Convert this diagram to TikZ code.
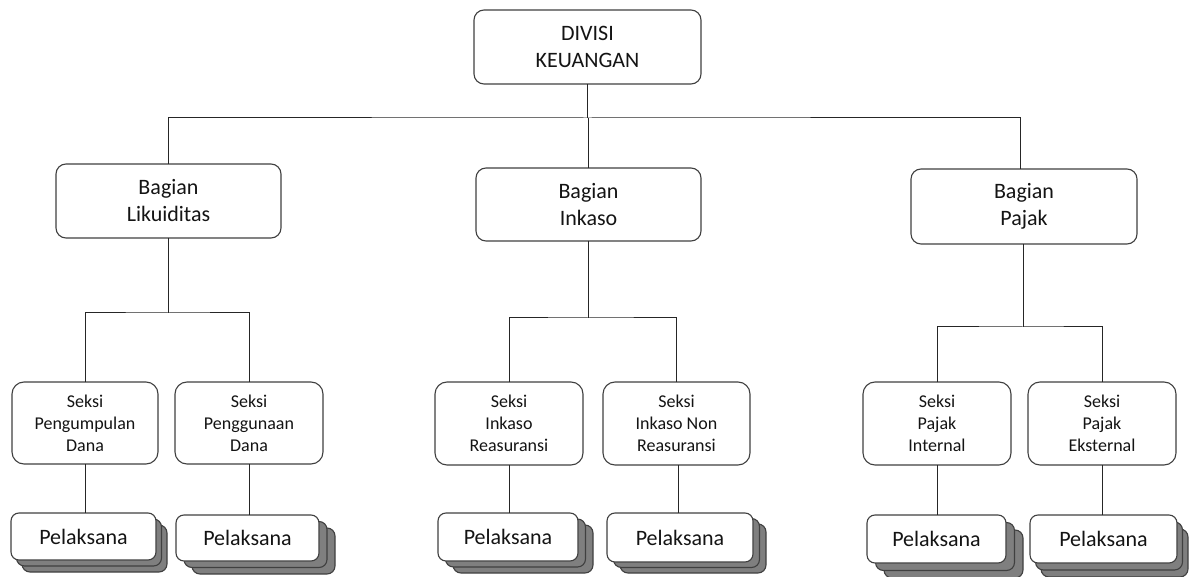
\documentclass[tikz,border=0pt]{standalone}
\usepackage{fontspec}
\setmainfont{Carlito}
\usetikzlibrary{shadows}
\definecolor{linec}{HTML}{262626}
\definecolor{boxc}{HTML}{404040}
\definecolor{txtc}{HTML}{141414}
\definecolor{shadec}{HTML}{7F7F7F}
\tikzset{
  conn/.style={draw=linec, line width=1pt},
  basebox/.style={draw=boxc, line width=1.1pt, fill=white, rounded corners=10pt,
    inner sep=0pt, outer sep=0pt, align=center, text=txtc},
  headbox/.style={basebox, font=\fontsize{22}{27}\selectfont},
  bagbox/.style={basebox, font=\fontsize{22}{27}\selectfont},
  seksibox/.style={basebox, rounded corners=12pt, font=\fontsize{18}{22}\selectfont},
  pelbox/.style={basebox, rounded corners=8pt, font=\fontsize{22}{25}\selectfont},
  stack/.style 2 args={double copy shadow={shadow xshift=#1pt, shadow yshift=-#2pt,
    fill=shadec, draw=boxc, line width=1.1pt}}
}
\begin{document}
\begin{tikzpicture}[x=1pt,y=-1pt]
\useasboundingbox (0,0) rectangle (1189,577);

% top
\node[headbox, minimum width=227pt, minimum height=74pt] (top) at (587.5,47) {DIVISI\\KEUANGAN};

% level 2
\node[bagbox, minimum width=225pt, minimum height=74pt] (L) at (168.5,201) {Bagian\\Likuiditas};
\node[bagbox, minimum width=225pt, minimum height=73pt] (I) at (588.5,204.5) {Bagian\\Inkaso};
\node[bagbox, minimum width=226pt, minimum height=75pt] (P) at (1024,206.5) {Bagian\\Pajak};

% level 3
\node[seksibox, minimum width=146pt, minimum height=82pt] (S1) at (85,423) {Seksi\\Pengumpulan\\Dana};
\node[seksibox, minimum width=148pt, minimum height=82pt] (S2) at (249,423) {Seksi\\Penggunaan\\Dana};
\node[seksibox, minimum width=148pt, minimum height=83pt] (S3) at (509,423.5) {Seksi\\Inkaso\\Reasuransi};
\node[seksibox, minimum width=147pt, minimum height=83pt] (S4) at (676.5,423.5) {Seksi\\Inkaso Non\\Reasuransi};
\node[seksibox, minimum width=148pt, minimum height=83pt] (S5) at (937,423.5) {Seksi\\Pajak\\Internal};
\node[seksibox, minimum width=148pt, minimum height=83pt] (S6) at (1102,423.5) {Seksi\\Pajak\\Eksternal};

% level 4
\node[pelbox, stack={5.5}{6}, minimum width=145pt, minimum height=47pt] (P1) at (83.5,536.5) {Pelaksana};
\node[pelbox, stack={8}{6.5}, minimum width=143pt, minimum height=46pt] (P2) at (247.5,538) {Pelaksana};
\node[pelbox, stack={7.5}{6}, minimum width=140pt, minimum height=48pt] (P3) at (508,537) {Pelaksana};
\node[pelbox, stack={6.5}{5.5}, minimum width=146pt, minimum height=49pt] (P4) at (680,537.5) {Pelaksana};
\node[pelbox, stack={8.5}{7.5}, minimum width=139pt, minimum height=48pt] (P5) at (936.5,539) {Pelaksana};
\node[pelbox, stack={5.5}{7}, minimum width=147pt, minimum height=48pt] (P6) at (1103.5,539) {Pelaksana};

% connectors level 1-2
\draw[conn] (top.south) -- (top.south |- 0,118) coordinate (b1);
\coordinate (pn) at ([xshift=-4pt]P.north);
\draw[conn] (L.north) |- (b1) -| (pn);
\draw[conn] (I.north) -- (I.north |- b1);

% connectors level 2-3
\draw[conn] (L.south) -- (L.south |- 0,313) coordinate (l3);
\draw[conn] (S1.north) |- (l3) -| (S2.north);
\draw[conn] (I.south) -- (I.south |- 0,318) coordinate (i3);
\draw[conn] (S3.north) |- (i3) -| (S4.north);
\coordinate (ps) at ([xshift=-1pt]P.south);
\draw[conn] (ps) -- (ps |- 0,327) coordinate (p3);
\draw[conn] (S5.north) |- (p3) -| (S6.north);

% connectors level 3-4
\draw[conn] (S1.south) -- (S1.south |- P1.north);
\draw[conn] (S2.south) -- (S2.south |- P2.north);
\draw[conn] (S3.south) -- (S3.south |- P3.north);
\draw[conn] ([xshift=1.5pt]S4.south) -- ([xshift=1.5pt]S4.south |- P4.north);
\draw[conn] (S5.south) -- (S5.south |- P5.north);
\draw[conn] (S6.south) -- (S6.south |- P6.north);
\end{tikzpicture}
\end{document}
